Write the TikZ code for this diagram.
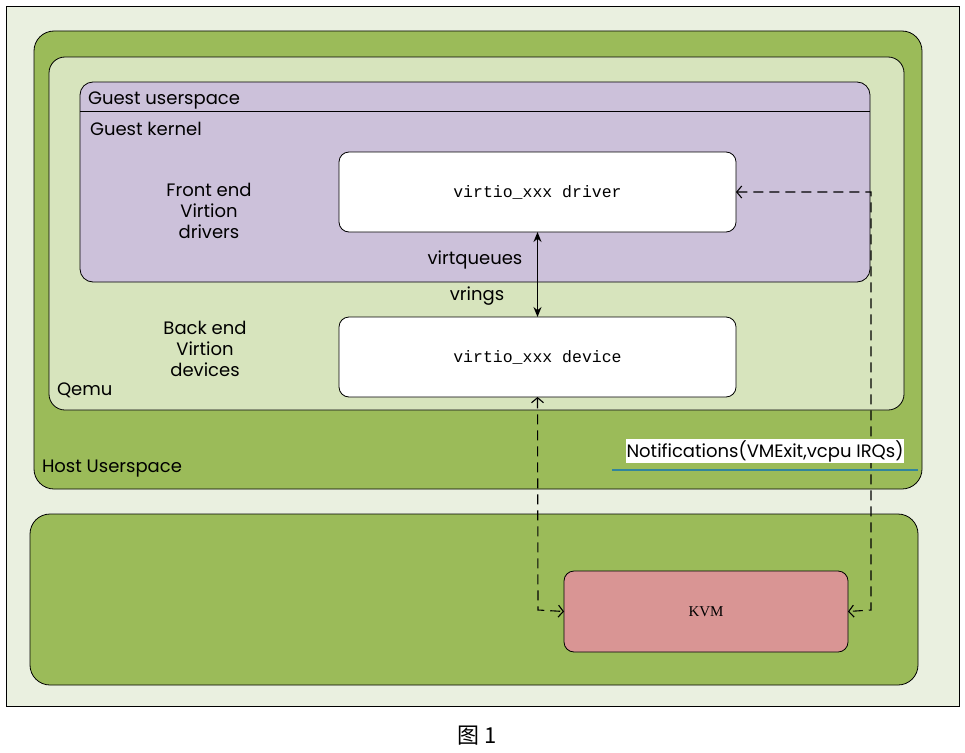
\documentclass[tikz,border=0pt]{standalone}
\usepackage{fontspec}
\setmainfont{Poppins}
\newfontfamily\cjk{Noto Sans CJK SC}
\newfontfamily\codefont{Liberation Mono}
\newfontfamily\kvmfont{Liberation Serif}
\usetikzlibrary{arrows,arrows.meta}
\definecolor{pagebg}{HTML}{EAF0E0}
\definecolor{hostgreen}{HTML}{9BBB59}
\definecolor{qemugreen}{HTML}{D7E4BD}
\definecolor{guestpurple}{HTML}{CCC1DA}
\definecolor{kvmred}{HTML}{D99594}
\definecolor{tealline}{HTML}{31859C}
\tikzset{%
    >=stealth, % filled tips for the vring link
    inner sep=0pt,%
    outer sep=0pt,%
    layer/.style={draw=black,line width=0.8pt,rectangle},%
    codebox/.style={layer,fill=white,rounded corners=10pt,
      minimum width=397pt,minimum height=80pt,
      font=\codefont\fontsize{16.5}{19}\selectfont},%
    notify/.style={dash pattern=on 10pt off 6pt,line width=1.1pt,
      {Straight Barb[length=5pt,width=12pt]}-{Straight Barb[length=5pt,width=12pt]}}%
    }

\begin{document}
\begin{tikzpicture}[x=1pt,y=-1pt,font=\fontsize{18}{21}\selectfont]
    \useasboundingbox (0,0) rectangle (965,752);
    \draw[fill=pagebg,line width=0.8pt] (6,6) rectangle (959,706);

    % host userspace and qemu
    \node[layer,fill=hostgreen,rounded corners=20pt,minimum width=888pt,
      minimum height=458pt] (host) at (478,260) {};
    \node[layer,fill=qemugreen,rounded corners=16pt,minimum width=855pt,
      minimum height=353pt] (qemu) at (476.5,233.5) {};
    \node[layer,fill=guestpurple,rounded corners=13pt,minimum width=790pt,
      minimum height=200pt] (guest) at (475,182) {};
    \draw[line width=0.8pt] (guest.west |- 0,111) -- (guest.east |- 0,111);

    % host kernel
    \node[layer,fill=hostgreen,rounded corners=20pt,minimum width=888pt,
      minimum height=171pt] (kernel) at (474,599.5) {};

    \node[codebox] (driver) at (537.5,192) {virtio\_xxx driver};
    \node[codebox] (device) at (537.5,357) {virtio\_xxx device};
    \node[layer,fill=kvmred,rounded corners=10pt,minimum width=284pt,
      minimum height=81pt,font=\kvmfont\fontsize{15}{18}\selectfont] (kvm)
      at (706,611.5) {KVM};

    \node[anchor=west] (guestuser) at (88,100) {Guest userspace};
    \node[anchor=west] (guestkern) at (90,129) {Guest kernel};
    \node[align=center] (frontend) at (209,211) {Front end\\Virtion\\drivers};
    \node[align=center] (backend) at (205,349) {Back end\\Virtion\\devices};
    \node[anchor=west] (qemulabel) at (57,390) {Qemu};
    \node[anchor=west] (hostlabel) at (42,469) {Host Userspace};
    \node (vq) at (475,260) {virtqueues};
    \node (vr) at (477,296) {vrings};

    \draw[line width=1.4pt,{Stealth[length=10pt,width=8pt]}-{Stealth[length=10pt,width=8pt]}]
      (driver.south) -- (device.north);

    % notifications between qemu, guest and kvm
    \coordinate (rturn) at (871,610);
    \coordinate (lturn) at (538,610);
    \draw[notify] (driver.east) -| (rturn) -- (kvm.east);
    \draw[notify] (device.south) -- (lturn) -- (kvm.west);

    \node[fill=white,inner sep=1pt] (notelabel) at (765,451)
      {Notifications(VMExit,vcpu IRQs)};
    \coordinate (nl) at (612,470);
    \coordinate (nr) at (918,470);
    \draw[tealline,line width=1.2pt] (nl) -- (nr);

    \node (caption) at (477,736) {\fontsize{22}{24}\selectfont\cjk 图 1};
\end{tikzpicture}
\end{document}
